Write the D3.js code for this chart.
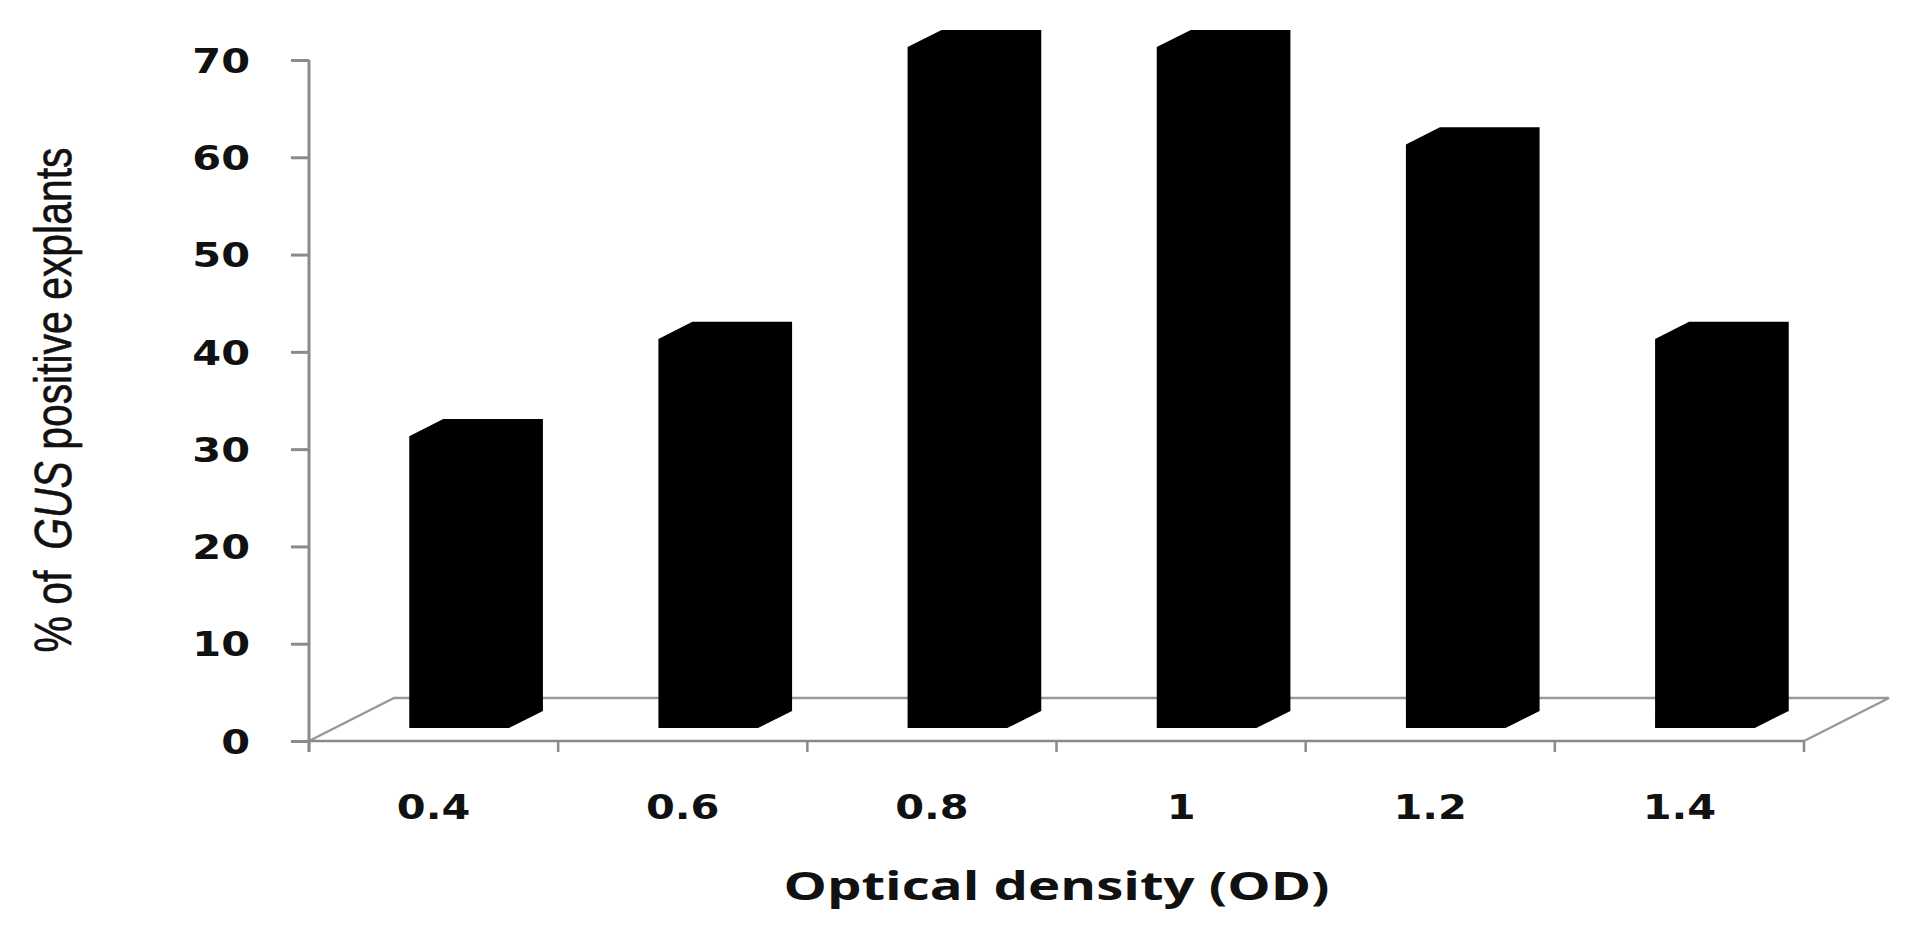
<!DOCTYPE html>
<html>
<head>
<meta charset="utf-8">
<script src="https://cdn.jsdelivr.net/npm/d3@7"></script>
<style>
  html, body { margin: 0; padding: 0; background: #fff; }
  svg { display: block; }
</style>
</head>
<body>
<svg class="chart" width="1924" height="941"></svg>
<script>
// data
var categories = ["0.4", "0.6", "0.8", "1", "1.2", "1.4"];
var values = [30, 40, 70, 70, 60, 40];
var yTicks = [0, 10, 20, 30, 40, 50, 60, 70];

var svg = d3.select("svg.chart");

// plot frame (front plane of the 3d floor)
var plotLeft = 309, plotRight = 1804, plotBase = 741, plotTop = 60;
var depth = {dx: 85, dy: -43};   // floor depth vector
var barDepth = [0.3, 0.7];       // bars sit in the middle of the floor depth
var stretch = 1.22;              // tick labels use a wide font

var x = d3.scaleBand()
    .domain(categories)
    .range([plotLeft, plotRight])
    .paddingInner(0)
    .paddingOuter(0);
var y = d3.scaleLinear()
    .domain([0, 70])
    .range([plotBase, plotTop]);

var axisColor = "#8a8a8a";

//Floor outline
var floor = [
  [plotLeft, plotBase],
  [plotLeft + depth.dx, plotBase + depth.dy],
  [plotRight + depth.dx, plotBase + depth.dy],
  [plotRight, plotBase]
];
svg.append("path")
    .attr("d", d3.line()(floor))
    .attr("fill", "none")
    .attr("stroke", "#999")
    .attr("stroke-width", 2.5);

//Bars (drawn as one black hexagon each)
var f0 = barDepth[0], f1 = barDepth[1];
var bw = x.bandwidth();
svg.append("g").selectAll("path")
  .data(values)
  .enter().append("path")
    .attr("d", function(d, i) {
      var xs = x(categories[i]);
      var xL = xs + f0 * bw + f0 * depth.dx,
          xR = xs + (1 - f0) * bw + f0 * depth.dx;
      var yB = y(0) + f0 * depth.dy,
          yT = y(d) + f0 * depth.dy;
      var ox = (f1 - f0) * depth.dx,
          oy = (f1 - f0) * depth.dy;
      return d3.line()([
        [xL, yB], [xR, yB], [xR + ox, yB + oy],
        [xR + ox, yT + oy], [xL + ox, yT + oy], [xL, yT]
      ]) + "Z";
    })
    .attr("fill", "#000");

//Y axis
var yAxis = svg.append("g")
    .attr("transform", "translate(" + plotLeft + ",0)")
    .call(d3.axisLeft(y).tickValues(yTicks).tickSize(18).tickSizeOuter(0));
yAxis.select(".domain").remove();
yAxis.selectAll(".tick line")
    .attr("stroke", axisColor)
    .attr("stroke-width", 3);
yAxis.selectAll(".tick text")
    .attr("x", -59 / stretch)
    .attr("dy", "0.36em")
    .attr("transform", "scale(" + stretch + ",1)")
    .attr("fill", "#111")
    .style("font-family", "'DejaVu Sans', sans-serif")
    .style("font-weight", "bold")
    .style("font-size", "34px");
svg.append("line")
    .attr("x1", plotLeft).attr("x2", plotLeft)
    .attr("y1", y(70)).attr("y2", plotBase + 11)
    .attr("stroke", axisColor)
    .attr("stroke-width", 3);

//X axis (front edge of floor) with ticks at category boundaries
svg.append("line")
    .attr("x1", plotLeft).attr("x2", plotRight)
    .attr("y1", plotBase).attr("y2", plotBase)
    .attr("stroke", axisColor)
    .attr("stroke-width", 2.5);
var bounds = categories.map(function(c) { return x(c); }).concat([plotRight]);
svg.append("g").selectAll("line")
  .data(bounds)
  .enter().append("line")
    .attr("x1", function(d) { return d; })
    .attr("x2", function(d) { return d; })
    .attr("y1", plotBase)
    .attr("y2", plotBase + 11)
    .attr("stroke", axisColor)
    .attr("stroke-width", 2.5);

var xAxis = svg.append("g")
    .attr("transform", "translate(0," + plotBase + ")")
    .call(d3.axisBottom(x).tickSize(0));
xAxis.select(".domain").remove();
xAxis.selectAll(".tick").each(function(d) {
  var t = d3.select(this);
  var cx = x(d) + bw / 2;
  t.attr("transform", "scale(" + stretch + ",1)");
  t.select("text")
    .attr("x", cx / stretch)
    .attr("y", 78)
    .attr("dy", 0)
    .attr("fill", "#111")
    .style("font-family", "'DejaVu Sans', sans-serif")
    .style("font-weight", "bold")
    .style("font-size", "34px");
});

//Axis titles
svg.append("text")
    .attr("x", (plotLeft + plotRight) / 2)
    .attr("y", 900)
    .attr("text-anchor", "middle")
    .attr("textLength", 546)
    .attr("lengthAdjust", "spacingAndGlyphs")
    .attr("fill", "#111")
    .style("font-family", "'Open Sans', sans-serif")
    .style("font-weight", "bold")
    .style("font-size", "39px")
    .text("Optical density (OD)");

var ylab = svg.append("text")
    .attr("transform", "translate(71,400) rotate(-90)")
    .attr("text-anchor", "middle")
    .attr("textLength", 505)
    .attr("lengthAdjust", "spacingAndGlyphs")
    .attr("fill", "#111")
    .attr("stroke", "#111")
    .attr("stroke-width", 0.6)
    .style("font-family", "'Liberation Sans Narrow', 'Liberation Sans', sans-serif")
    .style("font-size", "52px");
ylab.append("tspan").text("% of ");
ylab.append("tspan").attr("dx", 12).style("font-style", "italic").text("GUS");
ylab.append("tspan").text(" positive explants");
</script>
</body>
</html>
